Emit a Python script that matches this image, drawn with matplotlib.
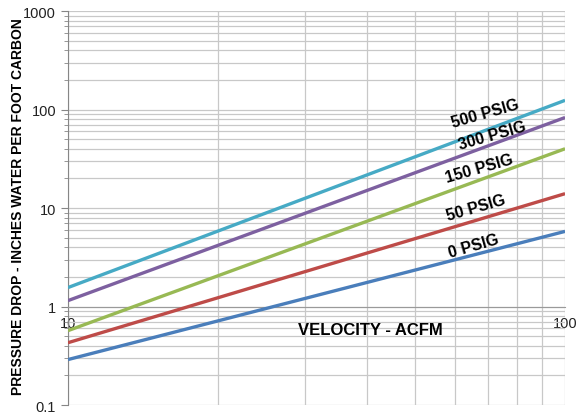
import matplotlib
matplotlib.use("Agg")
import matplotlib.pyplot as plt
from matplotlib.ticker import LogLocator, FixedLocator, NullFormatter, FuncFormatter

plt.rcParams['font.family'] = ['Liberation Sans', 'DejaVu Sans']

# data (straight lines on log-log axes)
velocity = [10, 100]
psig_0 = [0.29, 5.8]
psig_50 = [0.43, 14.0]
psig_150 = [0.57, 40.0]
psig_300 = [1.15, 83.0]
psig_500 = [1.56, 124.0]

labels = ['0 PSIG', '50 PSIG', '150 PSIG', '300 PSIG', '500 PSIG']
series = [psig_0, psig_50, psig_150, psig_300, psig_500]
colors = ['#4A7EBB', '#BE4B48', '#98B954', '#7D60A0', '#46AAC5']
label_pos = [(65.6, 4.2), (66.2, 10.1), (67.2, 25.2), (71.3, 55.7), (69, 91)]

fig = plt.figure(figsize=(5.76, 4.14), dpi=100)
ax = fig.add_axes([0.118, 0.019, 0.863, 0.952])

for y, c in zip(series, colors):
    ax.plot(velocity, y, color=c, lw=2.4, solid_capstyle='butt', zorder=3)

ax.set_xscale('log')
ax.set_yscale('log')
ax.set_xlim(10, 100)
ax.set_ylim(0.1, 1000)

# grid
ax.yaxis.set_minor_locator(LogLocator(base=10, subs=range(2, 10)))
ax.xaxis.set_minor_locator(FixedLocator([20, 30, 40, 50, 60, 70, 80, 90]))
ax.xaxis.set_minor_formatter(NullFormatter())
ax.yaxis.set_minor_formatter(NullFormatter())
ax.grid(True, which='both', color='#C8C8C8', lw=0.9, zorder=0)

fmt = FuncFormatter(lambda v, p: '%g' % v)
ax.yaxis.set_major_formatter(fmt)
ax.xaxis.set_major_formatter(fmt)

# x axis crosses at y = 1
ax.spines['bottom'].set_position(('data', 1))
ax.spines['bottom'].set_color('#9A9A9A')
ax.spines['left'].set_color('#868686')
ax.spines['top'].set_visible(False)
ax.spines['right'].set_visible(False)
ax.tick_params(axis='y', which='major', length=5, color='#868686', labelsize=10.5, labelcolor='#222222')
ax.tick_params(axis='y', which='minor', length=3, color='#868686')
ax.tick_params(axis='x', which='both', length=0, labelsize=10.5, labelcolor='#222222', pad=7)

for (lx, ly), txt in zip(label_pos, labels):
    ax.text(lx, ly, txt, fontsize=11.5, fontweight='bold', rotation=16,
            ha='center', va='center', rotation_mode='anchor', zorder=4)

ax.text(40.5, 0.58, 'VELOCITY - ACFM', fontsize=12, fontweight='bold',
        ha='center', va='center')
fig.text(0.031, 0.5, 'PRESSURE DROP - INCHES WATER PER FOOT CARBON',
         fontsize=10, fontweight='bold', rotation=90, ha='center', va='center')

fig.savefig('out.png', dpi=100)
